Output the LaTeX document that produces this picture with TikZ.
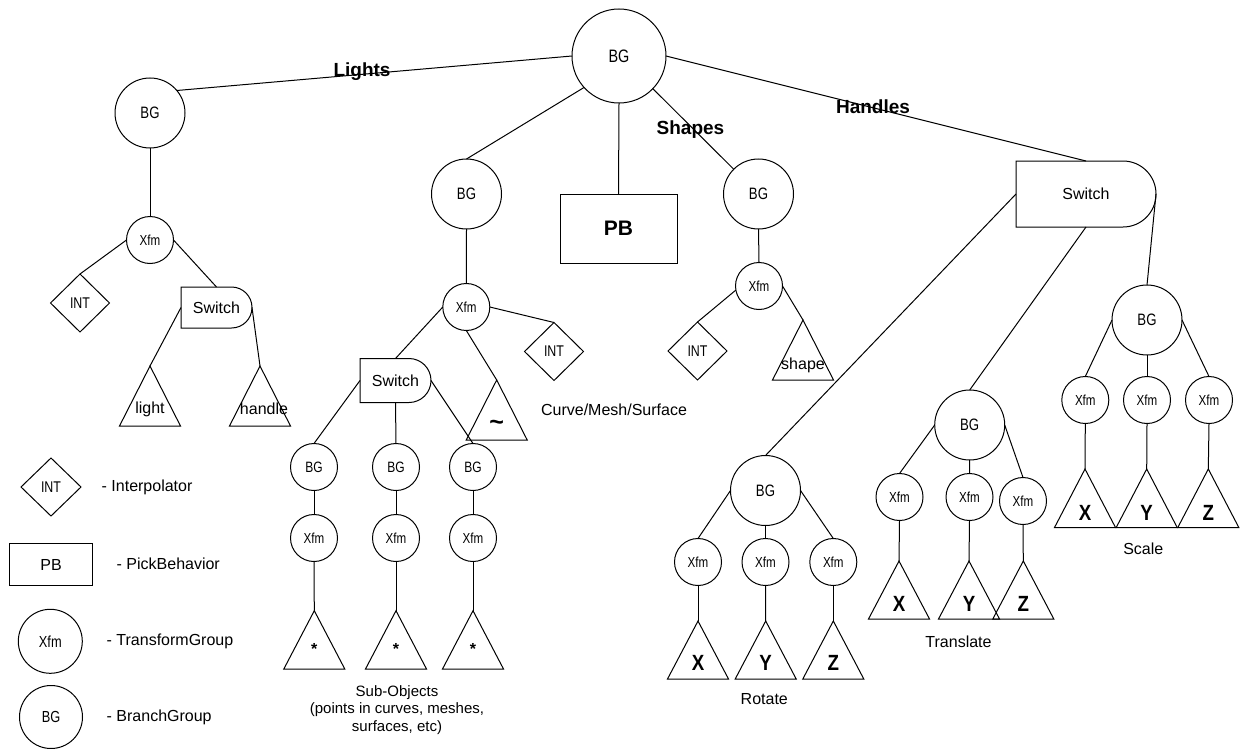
\documentclass[tikz,border=0pt]{standalone}
\usepackage{fontspec}
\setmainfont{Liberation Sans}
\newfontfamily\cnd[FakeStretch=0.8]{Liberation Sans}
\newfontfamily\cndb[FakeStretch=0.85]{Liberation Sans Bold}
\usetikzlibrary{shapes.geometric}
\newcommand\trinode[6]{% name, apex x, apex y, height, label y offset, label
  \coordinate (#1) at (#2,#3);
  \draw (#1) -- ++(-30.5,#4) -- ++(61,0) -- cycle;
  \node at (#2,#3+#5) {#6};
}
\newcommand\xyz{\cndb\fontsize{22}{22}\selectfont}
\newcommand\switchbox[5]{% left, top, right, height, radius
  \draw (#1,#2) -- (#3-#5,#2) arc[start angle=90,end angle=-90,radius=#5pt] -- (#1,#2+#4) -- cycle;
}
\tikzset{
  every node/.style={inner sep=0pt, outer sep=0pt},
  bg/.style={circle, draw, minimum size=70pt, font=\cnd\fontsize{16.5}{16.5}\selectfont},
  sbg/.style={circle, draw, minimum size=47pt, font=\cnd\fontsize{15}{15}\selectfont},
  xfm/.style={circle, draw, minimum size=47pt, font=\cnd\fontsize{14.5}{14.5}\selectfont},
  intd/.style={diamond, draw, aspect=1, minimum width=59pt, minimum height=58pt, font=\cnd\fontsize{15.5}{15.5}\selectfont},
  swn/.style={rectangle, draw=none, font=\fontsize{16}{16}\selectfont},
  lab/.style={font=\fontsize{16}{19}\selectfont},
  blab/.style={font=\bfseries\fontsize{19}{19}\selectfont},
}
\begin{document}
\begin{tikzpicture}[x=1pt,y=-1pt,line width=1pt]
\useasboundingbox (0,0) rectangle (1244,749);

% ---------- top level ----------
\node[bg, minimum size=94pt, font=\cnd\fontsize{18}{18}\selectfont] (root) at (619,56) {BG};
\node[bg] (lbg) at (150,113) {BG};
\node[bg] (mbg) at (466.5,194) {BG};
\node[rectangle, draw, minimum width=117pt, minimum height=69pt, font=\bfseries\fontsize{21}{21}\selectfont] (pb) at (618.5,228.5) {PB};
\node[bg] (sbgn) at (758.5,194) {BG};
\switchbox{1016}{161}{1156}{66}{33}
\node[swn, minimum width=140pt, minimum height=66pt] (hsw) at (1086,194) {Switch};

\draw (root.180) -- (lbg.40);
\draw (root.222) -- (mbg.north);
\draw (root.south) -- (pb.north);
\draw (root.-44) -- (sbgn.135);
\draw (root.east) -- (hsw.north);
\node[blab] (lLights) at (362,72) {Lights};
\node[blab] (lShapes) at (690.5,130) {Shapes};
\node[blab] (lHandles) at (873,107) {Handles};

% ---------- Lights subtree ----------
\node[xfm] (lx) at (150,240) {Xfm};
\node[intd] (lint) at (80,303) {INT};
\switchbox{181}{287}{252}{41}{20.5}
\node[swn, minimum width=71pt, minimum height=41pt] (lsw) at (216.5,307.5) {Switch};
\trinode{tlight}{150}{366}{60}{43}{\fontsize{16}{16}\selectfont light}
\trinode{thandle}{260}{366}{60}{43}{\hspace*{8pt}\fontsize{16}{16}\selectfont handle}
\draw (lbg.south) -- (lx.north);
\draw (lx.west) -- (lint.north);
\draw (lx.east) -- (lsw.north);
\draw (lsw.west) -- (tlight);
\draw (lsw.east) -- (thandle);

% ---------- Curve/Mesh/Surface subtree ----------
\node[xfm] (mx) at (466.3,307) {Xfm};
\node[intd] (mint) at (554,351.5) {INT};
\switchbox{360}{358.5}{431}{44}{22}
\node[swn, minimum width=71pt, minimum height=44pt] (msw) at (395.5,380.5) {Switch};
\trinode{ttilde}{496.7}{380}{60}{45}{\bfseries\fontsize{25}{25}\selectfont\textasciitilde}
\node[lab] (lcms) at (614,410) {Curve/Mesh/Surface};
\draw (mbg.south) -- (mx.north);
\draw (mx.west) -- (msw.north);
\draw (mx.east) -- (mint.north);
\draw (mx.south) -- (ttilde);

\node[sbg] (sb1) at (314,467) {BG};
\node[sbg] (sb2) at (396,467) {BG};
\node[sbg] (sb3) at (473,467) {BG};
\node[xfm] (sx1) at (314,538) {Xfm};
\node[xfm] (sx2) at (396,538) {Xfm};
\node[xfm] (sx3) at (473,538) {Xfm};
\trinode{ts1}{314.3}{610.7}{58.3}{38.5}{\bfseries\fontsize{16}{16}\selectfont *}
\trinode{ts2}{396}{610.7}{58.3}{38.5}{\bfseries\fontsize{16}{16}\selectfont *}
\trinode{ts3}{473}{610.7}{58.3}{38.5}{\bfseries\fontsize{16}{16}\selectfont *}
\draw (msw.west) -- (sb1.north);
\draw (msw.south) -- (sb2.north);
\draw (msw.east) -- (sb3.north);
\draw (sb1) -- (sx1);
\draw (sb2) -- (sx2);
\draw (sb3) -- (sx3);
\draw (sx1.south) -- (ts1);
\draw (sx2.south) -- (ts2);
\draw (sx3.south) -- (ts3);
\node[align=center, font=\fontsize{15}{17.5}\selectfont] (lsub) at (397,710) {Sub-Objects\\(points in curves, meshes,\\surfaces, etc)};

% ---------- Shapes subtree ----------
\node[xfm] (shx) at (759,286) {Xfm};
\node[intd] (shint) at (697.5,351) {INT};
\trinode{tshape}{803}{320}{60}{45}{\fontsize{16}{16}\selectfont shape}
\draw (sbgn.south) -- (shx.north);
\draw (shx.190) -- (shint.north);
\draw (shx.east) -- (tshape);

% ---------- Handles subtree ----------
\node[bg] (rbg) at (765.5,490.5) {BG};
\node[bg] (tbg) at (969.7,425) {BG};
\node[bg] (cbg) at (1147,320) {BG};
\draw (hsw.west) -- (rbg.north);
\draw (hsw.south) -- (tbg.north);
\draw (hsw.east) -- (cbg.north);

% Rotate
\node[xfm] (rx1) at (698,562) {Xfm};
\node[xfm] (rx2) at (765.5,562) {Xfm};
\node[xfm] (rx3) at (833.3,562) {Xfm};
\trinode{rt1}{698}{621}{58}{41.5}{\xyz X}
\trinode{rt2}{765.7}{621}{58}{41.5}{\xyz Y}
\trinode{rt3}{833.3}{621}{58}{41.5}{\xyz Z}
\draw (rbg.west) -- (rx1.north);
\draw (rbg.south) -- (rx2.north);
\draw (rbg.east) -- (rx3.north);
\draw (rx1.south) -- (rt1);
\draw (rx2.south) -- (rt2);
\draw (rx3.south) -- (rt3);
\node[lab] (lrot) at (764.3,699) {Rotate};

% Translate
\node[xfm] (tx1) at (899.5,497) {Xfm};
\node[xfm] (tx2) at (969.5,497) {Xfm};
\node[xfm] (tx3) at (1023,501) {Xfm};
\trinode{tt1}{899}{561}{58}{42.5}{\xyz X}
\trinode{tt2}{969}{561}{58}{42.5}{\xyz Y}
\trinode{tt3}{1023.3}{561}{58}{42.5}{\xyz Z}
\draw (tbg.west) -- (tx1.north);
\draw (tbg.south) -- (tx2.north);
\draw (tbg.east) -- (tx3.north);
\draw (tx1.south) -- (tt1);
\draw (tx2.south) -- (tt2);
\draw (tx3.south) -- (tt3);
\node[lab] (ltrans) at (958.5,641.7) {Translate};

% Scale
\node[xfm] (cx1) at (1085.3,400) {Xfm};
\node[xfm] (cx2) at (1147,400) {Xfm};
\node[xfm] (cx3) at (1209,400) {Xfm};
\trinode{ct1}{1085}{469}{58.5}{43.5}{\xyz X}
\trinode{ct2}{1146.7}{469}{58.5}{43.5}{\xyz Y}
\trinode{ct3}{1208.3}{469}{58.5}{43.5}{\xyz Z}
\draw (cbg.west) -- (cx1.north);
\draw (cbg.south) -- (cx2.north);
\draw (cbg.east) -- (cx3.north);
\draw (cx1.south) -- (ct1);
\draw (cx2.south) -- (ct2);
\draw (cx3.south) -- (ct3);
\node[lab] (lscale) at (1143.3,548.3) {Scale};

% ---------- Legend ----------
\node[intd, minimum width=60pt] (gint) at (51,487) {INT};
\node[rectangle, draw, minimum width=83pt, minimum height=42pt, font=\fontsize{16}{16}\selectfont] (gpb) at (51,564.5) {PB};
\node[circle, draw, minimum size=64pt, font=\cnd\fontsize{16}{16}\selectfont] (gx) at (50.3,641.3) {Xfm};
\node[circle, draw, minimum size=63pt, font=\cnd\fontsize{16}{16}\selectfont] (gbg) at (51,717) {BG};
\node[lab, anchor=west] (gintl) at (101.7,487) {- Interpolator};
\node[lab, anchor=west] (gpbl) at (116.7,564) {- PickBehavior};
\node[lab, anchor=west] (gxl) at (106.7,641) {- TransformGroup};
\node[lab, anchor=west] (gbgl) at (106.7,717) {- BranchGroup};
\end{tikzpicture}
\end{document}
